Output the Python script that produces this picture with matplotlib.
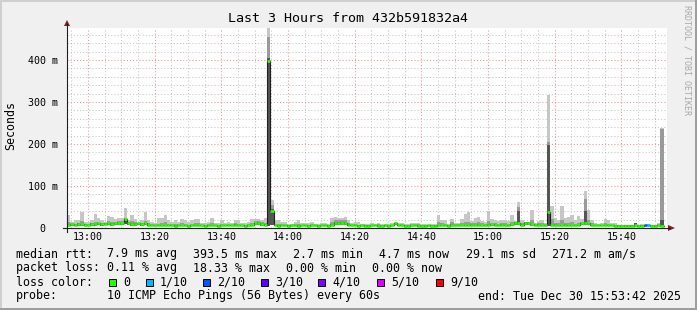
import numpy as np
from matplotlib import pyplot as plt
from matplotlib.lines import Line2D
from matplotlib.patches import Polygon, Rectangle
from matplotlib.transforms import ScaledTranslation

W, H = 697, 310
MONO = "DejaVu Sans Mono"
plt.rcParams["font.family"] = MONO

# one sample per minute, starting 12:53:42 (values in ms)
median = [
    7, 9, 7, 10, 9, 8, 7, 10, 9, 12,
    10, 10, 12, 10, 12, 13, 12, 21, 13, 9,
    10, 12, 10, 12, 7, 7, 6, 6, 6, 6,
    6, 6, 5, 6, 6, 6, 5, 6, 6, 6,
    6, 5, 6, 6, 6, 5, 6, 6, 7, 6,
    8, 6, 6, 5, 6, 7, 12, 13, 10, 7,
    397, 40, 6, 5, 6, 6, 5, 6, 6, 5,
    6, 6, 5, 6, 6, 5, 6, 6, 5, 8,
    12, 13, 12, 12, 8, 6, 6, 5, 6, 5,
    5, 6, 6, 5, 5, 6, 5, 6, 12, 6,
    6, 5, 5, 6, 6, 5, 5, 5, 6, 5,
    5, 6, 6, 6, 5, 7, 6, 6, 6, 7,
    7, 8, 7, 8, 7, 6, 8, 9, 7, 7,
    8, 7, 7, 9, 13, 12, 8, 13, 13, 9,
    7, 8, 7, 7, 37, 8, 8, 7, 7, 8,
    7, 7, 6, 7, 12, 12, 12, 7, 6, 6,
    6, 7, 6, 6, 5, 5, 5, 5, 5, 5,
    6, 5, 5, 7, 7, 5, 5, 6, 5,
]
smoke_max = [
    30, 15, 18, 20, 38, 15, 14, 19, 34, 25,
    19, 14, 29, 26, 22, 25, 24, 48, 20, 32,
    22, 12, 20, 39, 20, 14, 12, 25, 25, 32,
    20, 15, 20, 15, 22, 20, 15, 20, 22, 22,
    12, 12, 15, 23, 13, 12, 19, 13, 15, 12,
    20, 18, 12, 12, 15, 22, 22, 22, 20, 25,
    480, 67, 19, 19, 14, 14, 9, 10, 14, 19,
    12, 12, 13, 15, 10, 10, 13, 12, 10, 24,
    26, 25, 25, 26, 19, 13, 14, 14, 10, 10,
    9, 12, 10, 13, 9, 10, 9, 12, 14, 13,
    13, 10, 9, 13, 13, 13, 9, 9, 8, 9,
    10, 32, 20, 18, 10, 22, 12, 13, 22, 33,
    37, 17, 25, 27, 17, 15, 40, 22, 19, 17,
    19, 20, 16, 31, 17, 61, 19, 15, 15, 43,
    13, 17, 19, 13, 317, 53, 24, 19, 52, 25,
    26, 31, 19, 28, 21, 89, 43, 20, 12, 10,
    12, 21, 19, 13, 12, 8, 7, 7, 7, 7,
    13, 8, 10, 8, 10, 7, 8, 12, 238,
]
smoke_mid = [
    14, 11, 10, 13, 16, 10, 10, 13, 15, 15,
    13, 12, 16, 14, 15, 16, 16, 24, 15, 16,
    14, 11, 13, 16, 12, 9, 8, 10, 12, 14,
    10, 9, 10, 9, 11, 10, 8, 10, 12, 11,
    8, 8, 9, 11, 8, 7, 10, 8, 9, 8,
    11, 10, 8, 7, 9, 13, 16, 17, 14, 12,
    455, 55, 10, 10, 9, 8, 7, 7, 9, 10,
    8, 8, 8, 9, 7, 7, 8, 8, 7, 14,
    18, 19, 18, 18, 12, 9, 9, 8, 7, 7,
    7, 8, 7, 10, 7, 7, 7, 8, 13, 9,
    9, 7, 7, 9, 9, 9, 7, 7, 7, 7,
    7, 14, 11, 10, 7, 15, 9, 9, 11, 14,
    15, 11, 13, 14, 11, 9, 16, 13, 11, 10,
    11, 11, 10, 15, 15, 50, 12, 15, 15, 18,
    9, 11, 11, 10, 205, 22, 13, 11, 18, 13,
    12, 15, 10, 13, 14, 69, 20, 11, 8, 8,
    8, 11, 10, 8, 8, 6, 6, 6, 6, 6,
    11, 6, 7, 8, 8, 6, 6, 9, 236,
]
smoke_inner = [
    9, 10, 8, 11, 10, 9, 8, 11, 10, 13,
    11, 11, 13, 12, 13, 14, 13, 22, 14, 11,
    11, 11, 11, 13, 8, 8, 7, 7, 7, 7,
    7, 7, 6, 7, 7, 7, 6, 7, 8, 7,
    7, 6, 7, 7, 7, 6, 7, 7, 8, 7,
    9, 7, 7, 6, 7, 8, 13, 15, 11, 8,
    405, 45, 7, 6, 7, 7, 6, 7, 7, 6,
    7, 7, 6, 7, 7, 6, 7, 7, 6, 10,
    14, 15, 14, 14, 9, 7, 7, 6, 7, 6,
    6, 7, 7, 8, 6, 7, 6, 7, 13, 7,
    7, 6, 6, 7, 7, 6, 6, 6, 7, 6,
    6, 7, 7, 7, 6, 10, 7, 7, 7, 8,
    8, 9, 8, 9, 8, 7, 9, 10, 8, 8,
    9, 8, 8, 10, 14, 40, 9, 14, 14, 10,
    8, 9, 8, 8, 198, 9, 9, 8, 8, 9,
    8, 8, 7, 8, 13, 40, 13, 8, 7, 7,
    7, 8, 7, 7, 6, 6, 6, 6, 6, 6,
    13, 6, 6, 8, 8, 6, 6, 7, 18,
]
smoke_min = [
    4, 5, 4, 5, 5, 4, 4, 5, 5, 6,
    5, 6, 6, 5, 6, 7, 6, 9, 6, 5,
    5, 6, 5, 6, 4, 4, 4, 4, 4, 4,
    4, 4, 3, 4, 4, 4, 3, 4, 4, 4,
    4, 3, 4, 4, 4, 3, 4, 4, 4, 4,
    5, 4, 4, 3, 4, 4, 6, 7, 5, 4,
    4, 6, 4, 3, 4, 4, 3, 4, 4, 3,
    4, 4, 3, 4, 4, 3, 4, 4, 3, 5,
    7, 8, 7, 7, 5, 4, 4, 3, 4, 3,
    3, 4, 4, 3, 3, 4, 3, 4, 6, 4,
    4, 3, 3, 4, 4, 3, 3, 3, 4, 3,
    3, 4, 4, 4, 3, 4, 4, 4, 4, 4,
    4, 5, 4, 5, 4, 4, 5, 5, 4, 4,
    5, 4, 4, 5, 7, 6, 5, 7, 7, 5,
    4, 5, 4, 4, 5, 5, 5, 4, 4, 5,
    4, 4, 4, 4, 6, 6, 6, 4, 4, 4,
    4, 4, 4, 4, 3, 3, 3, 3, 3, 3,
    4, 3, 3, 4, 4, 3, 3, 4, 3,
]
# samples that lost packets (index, lost of 10)
loss_idx = [173, 174]
loss_val = [2, 1]

loss_steps = [0, 1, 2, 3, 4, 5, 9]
loss_labels = ["0", "1/10", "2/10", "3/10", "4/10", "5/10", "9/10"]
loss_colors = ["#26ff00", "#00b8ff", "#0059ff", "#5e00ff", "#7e00ff", "#dd00ff", "#ff0000"]

time_pos = [6.3, 26.3, 46.3, 66.3, 86.3, 106.3, 126.3, 146.3, 166.3]
time_labels = ["13:00", "13:20", "13:40", "14:00", "14:20", "14:40", "15:00", "15:20", "15:40"]
y_ticks = [0, 100, 200, 300, 400]
y_labels = ["0", "100 m", "200 m", "300 m", "400 m"]


def fx(x):
    return x / W


def fy(y):
    return 1 - y / H


fig = plt.figure(figsize=(W / 100, H / 100), dpi=100, facecolor="#f0f0f0")

# 3d-ish frame like rrdtool
for (x0, y0, w, h, c) in [(0, 0, W, 2, "#cfcfcf"), (0, 0, 2, H, "#cfcfcf"),
                          (0, H - 2, W, 2, "#9e9e9e"), (W - 2, 0, 2, H, "#9e9e9e")]:
    fig.patches.append(Rectangle((fx(x0), fy(y0 + h)), w / W, h / H,
                                 transform=fig.transFigure, color=c, lw=0))

ax = fig.add_axes([fx(67), fy(228), 600 / W, 200 / H])
ax.set_facecolor("white")

n = len(median)
x = np.arange(n)
lo = np.array(smoke_min)
ax.bar(x, np.array(smoke_max) - lo, bottom=lo, width=1, align="edge", color="#c6c6c6", lw=0)
ax.bar(x, np.array(smoke_mid) - lo, bottom=lo, width=1, align="edge", color="#9a9a9a", lw=0)
ax.bar(x, np.array(smoke_inner) - lo, bottom=lo, width=1, align="edge", color="#555555", lw=0)

seg_colors = [loss_colors[0]] * n
for i, v in zip(loss_idx, loss_val):
    seg_colors[i] = loss_colors[loss_steps.index(v)]
ax.step(np.append(x, n), np.append(median, median[-1]), where="post", color="#1f1f1f", lw=0.8)
ax.hlines(median, x, x + 1, colors=seg_colors, lw=1.9)

ax.set_xlim(0, 180)
ax.set_ylim(0, 200 / 0.42)
ax.set_xticks(time_pos, time_labels)
ax.set_xticks(np.arange(1.3, 180, 5), minor=True)
ax.set_yticks(y_ticks, y_labels)
ax.set_yticks(np.arange(0, 477, 20), minor=True)
ax.set_axisbelow(True)
ax.grid(which="minor", color="#8f8f8f", alpha=0.5, lw=0.75, ls=(0, (1, 2)))
ax.grid(which="major", color="#de5050", alpha=0.6, lw=0.75, ls=(0, (1, 2)))
ax.tick_params(which="both", length=0)
ax.tick_params(axis="x", pad=3.2, labelsize=7.2)
ax.tick_params(axis="y", pad=6.3, labelsize=7.2)
zero = ax.get_yticklabels()[0]
zero.set_transform(zero.get_transform() + ScaledTranslation(-0.125, 0, fig.dpi_scale_trans))
for s in ax.spines.values():
    s.set_visible(False)

# axes with arrows
fig.add_artist(Line2D([fx(67), fx(67)], [fy(232), fy(24)], color="#1f1f1f", lw=0.8))
fig.add_artist(Line2D([fx(63), fx(670)], [fy(228), fy(228)], color="#1f1f1f", lw=0.8))
fig.patches.append(Polygon([(fx(64), fy(26)), (fx(70), fy(26)), (fx(67), fy(20))],
                           transform=fig.transFigure, color="#7f1f1f", lw=0))
fig.patches.append(Polygon([(fx(668), fy(225)), (fx(668), fy(231)), (fx(675), fy(228))],
                           transform=fig.transFigure, color="#7f1f1f", lw=0))

fig.text(fx(347.5), fy(19), "Last 3 Hours from 432b591832a4", ha="center", va="center", fontsize=9.6)
fig.text(fx(11), fy(126), "Seconds", rotation=90, ha="center", va="center", fontsize=8.35)
fig.text(fx(687), fy(60), "RRDTOOL / TOBI OETIKER", rotation=270, ha="center", va="center",
         fontsize=6, color="#a8a8a8")

legend_rows = [
    (254, [(16, "median rtt:"), (107, "7.9 ms avg"), (193, "393.5 ms max"), (293, "2.7 ms min"),
           (379, "4.7 ms now"), (466, "29.1 ms sd"), (552, "271.2 m am/s")]),
    (268, [(16, "packet loss:"), (107, "0.11 % avg"), (193, "18.33 % max"), (286, "0.00 % min"),
           (372, "0.00 % now")]),
    (282, [(16, "loss color:")]),
    (296, [(16, "probe:"), (107, "10 ICMP Echo Pings (56 Bytes) every 60s"),
           (478, "end: Tue Dec 30 15:53:42 2025")]),
]
for y, items in legend_rows:
    for lx, txt in items:
        fig.text(fx(lx), fy(y), txt, ha="left", va="center", fontsize=8.35)

box_x = [109, 146, 203, 261, 318, 377, 436]
for bx, lab, col in zip(box_x, loss_labels, loss_colors):
    fig.patches.append(Rectangle((fx(bx), fy(286)), 7 / W, 7 / H, transform=fig.transFigure,
                                 facecolor=col, edgecolor="black", lw=0.7))
    fig.text(fx(bx + 14), fy(282), lab, ha="left", va="center", fontsize=8.35)

fig.savefig("out.png", dpi=100, facecolor=fig.get_facecolor())
